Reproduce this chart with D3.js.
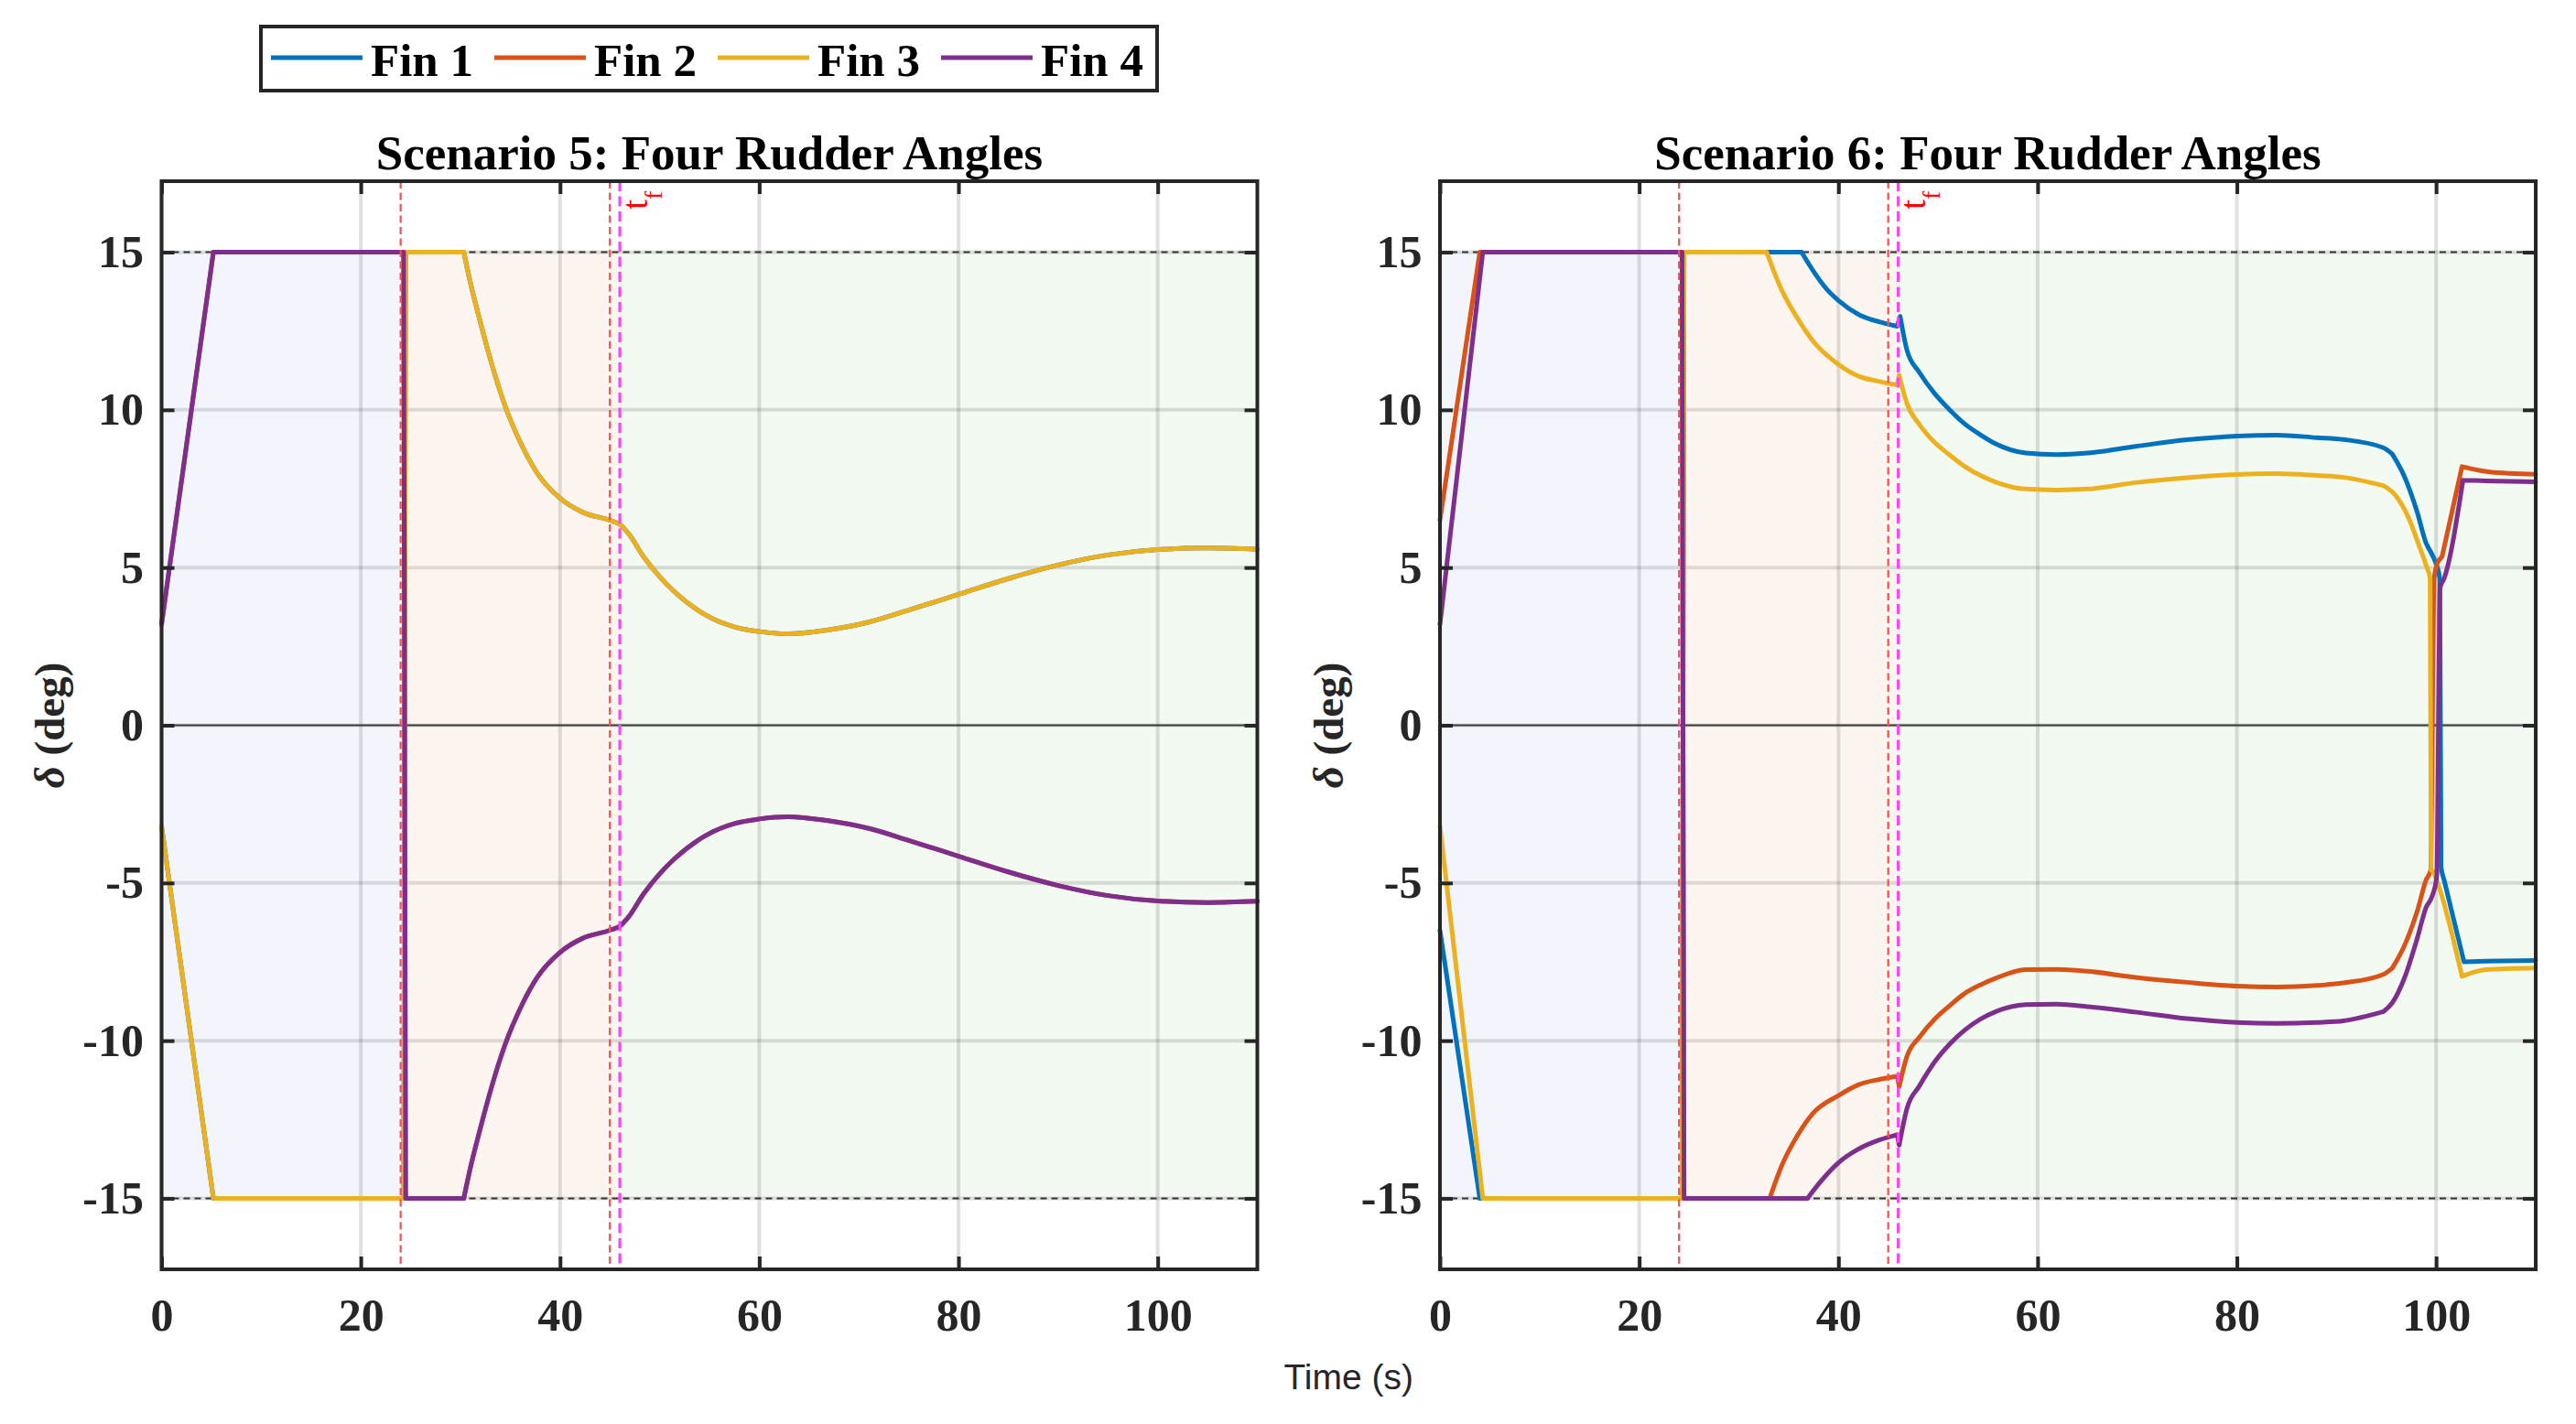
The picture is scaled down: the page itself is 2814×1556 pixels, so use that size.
<!DOCTYPE html>
<html><head><meta charset="utf-8">
<script src="https://cdn.jsdelivr.net/npm/d3@7"></script>
<style>body{margin:0;background:#fff}</style>
</head><body>
<svg id="c" width="2814" height="1556"></svg>
<script>
// ---------------- DATA ----------------
const finNames = ["Fin 1", "Fin 2", "Fin 3", "Fin 4"];
const finColors = ["#0072BD", "#D95319", "#EDB120", "#7E2F8E"];
const xTicks = [0, 20, 40, 60, 80, 100];
const yTicks = [-15, -10, -5, 0, 5, 10, 15];
const titles = ["Scenario 5: Four Rudder Angles", "Scenario 6: Four Rudder Angles"];
const xLabel = "Time (s)";
const phaseBounds = [[0, 24], [24, 46], [46, 110]];
const phaseColors = ["#f2f6fc", "#fdf6f0", "#f3faf1"];
const redLines = [24, 45];
const magentaLines = [46];
const limitLines = [15, -15];

// Scenario 5 (Fin 1 hidden under Fin 3, Fin 2 hidden under Fin 4)
const s5Fin1 = [[0,-3.2],[5.2,-15],[24.3,-15],[24.5,15],[30.34,15],[30.95,14.1],[31.9,12.9],[33.1,11.5],[34.4,10.2],[36.2,8.85],[37.7,8.0],[40,7.2],[42.3,6.75],[45.0,6.5],[46.0,6.37],[46.9,6.07],[48.4,5.34],[50,4.71],[51.5,4.23],[54.6,3.5],[57.6,3.11],[60,2.97],[62.9,2.9],[66.8,3.02],[71.1,3.28],[75,3.65],[80,4.15],[85,4.65],[90,5.08],[95,5.4],[100,5.57],[105,5.62],[110,5.58]];
const s5Fin2 = [[0,3.2],[5.2,15],[24.3,15],[24.5,-15],[30.34,-15],[30.95,-14.1],[31.9,-12.9],[33.1,-11.5],[34.4,-10.2],[36.2,-8.85],[37.7,-8.0],[40,-7.2],[42.3,-6.75],[45.0,-6.5],[46.0,-6.37],[46.9,-6.07],[48.4,-5.34],[50,-4.71],[51.5,-4.23],[54.6,-3.5],[57.6,-3.11],[60,-2.97],[62.9,-2.9],[66.8,-3.02],[71.1,-3.28],[75,-3.65],[80,-4.15],[85,-4.65],[90,-5.08],[95,-5.4],[100,-5.57],[105,-5.62],[110,-5.58]];
const s5Fin3 = [[0,-3.2],[5.2,-15],[24.3,-15],[24.5,15],[30.34,15],[30.95,14.1],[31.9,12.9],[33.1,11.5],[34.4,10.2],[36.2,8.85],[37.7,8.0],[40,7.2],[42.3,6.75],[45.0,6.5],[46.0,6.37],[46.9,6.07],[48.4,5.34],[50,4.71],[51.5,4.23],[54.6,3.5],[57.6,3.11],[60,2.97],[62.9,2.9],[66.8,3.02],[71.1,3.28],[75,3.65],[80,4.15],[85,4.65],[90,5.08],[95,5.4],[100,5.57],[105,5.62],[110,5.58]];
const s5Fin4 = [[0,3.2],[5.2,15],[24.3,15],[24.5,-15],[30.34,-15],[30.95,-14.1],[31.9,-12.9],[33.1,-11.5],[34.4,-10.2],[36.2,-8.85],[37.7,-8.0],[40,-7.2],[42.3,-6.75],[45.0,-6.5],[46.0,-6.37],[46.9,-6.07],[48.4,-5.34],[50,-4.71],[51.5,-4.23],[54.6,-3.5],[57.6,-3.11],[60,-2.97],[62.9,-2.9],[66.8,-3.02],[71.1,-3.28],[75,-3.65],[80,-4.15],[85,-4.65],[90,-5.08],[95,-5.4],[100,-5.57],[105,-5.62],[110,-5.58]];

// Scenario 6
const s6Fin1 = [[0,-6.5],[4.0,-15],[24.3,-15],[24.5,15],[36.3,15],[37.4,14.44],[38.9,13.8],[40,13.47],[42,13.03],[44.1,12.79],[45.9,12.65],[46.2,12.96],[46.9,11.87],[48.1,11.2],[49.65,10.52],[51.2,9.99],[52.7,9.55],[54.25,9.21],[55.8,8.92],[58.8,8.63],[61.9,8.58],[65,8.63],[70,8.85],[75,9.05],[80,9.17],[84,9.2],[88,9.12],[90.7,9.06],[94.7,8.8],[95.6,8.6],[96.8,7.9],[98.1,6.76],[99.0,5.77],[99.45,5.5],[99.9,5.2],[100.37,4.65],[100.5,-4.5],[100.8,-4.9],[102.8,-7.5],[105,-7.48],[110,-7.46]];
const s6Fin2 = [[0,6.5],[4.0,15],[24.3,15],[24.5,-15],[33.1,-15],[34.3,-13.97],[35.9,-13.0],[37.4,-12.32],[40,-11.74],[42,-11.4],[44.1,-11.23],[45.9,-11.13],[46.1,-11.45],[46.9,-10.48],[48.1,-9.9],[49.65,-9.32],[51.2,-8.88],[52.7,-8.5],[54.25,-8.23],[55.8,-8.02],[58.8,-7.75],[61.9,-7.74],[65,-7.8],[70,-8.0],[75,-8.15],[80,-8.27],[84,-8.3],[88,-8.25],[90.7,-8.17],[94.7,-7.9],[95.6,-7.7],[96.8,-7.0],[98.1,-5.9],[99.0,-4.9],[99.45,-4.6],[99.8,4.65],[100.2,5.2],[100.6,5.35],[102.6,8.2],[105.4,8.03],[110,7.96]];
const s6Fin3 = [[0,-3.2],[4.3,-15],[24.3,-15],[24.5,15],[32.8,15],[34.3,13.8],[35.9,12.9],[37.4,12.2],[40,11.44],[42,11.07],[44.1,10.9],[45.9,10.79],[46.1,11.1],[46.9,10.18],[48.1,9.55],[49.65,8.97],[51.2,8.56],[52.7,8.2],[54.25,7.92],[55.8,7.71],[58.8,7.49],[61.9,7.46],[65,7.49],[70,7.7],[75,7.85],[80,7.95],[84,7.98],[88,7.92],[90.7,7.86],[94.7,7.6],[95.9,7.3],[97.2,6.6],[98.4,5.6],[99.0,5.07],[99.4,4.65],[99.5,-4.6],[99.75,-4.65],[100.37,-5.2],[102.6,-7.96],[105,-7.75],[110,-7.7]];
const s6Fin4 = [[0,3.2],[4.3,15],[24.3,15],[24.5,-15],[36.9,-15],[38.0,-14.55],[40,-13.87],[42,-13.44],[44.1,-13.15],[45.9,-12.98],[46.1,-13.31],[46.9,-12.13],[48.1,-11.45],[49.65,-10.68],[51.2,-10.1],[52.7,-9.66],[54.25,-9.32],[55.8,-9.08],[58.8,-8.86],[61.9,-8.84],[65,-8.92],[70,-9.1],[75,-9.3],[80,-9.42],[84,-9.45],[88,-9.42],[90.7,-9.37],[94.7,-9.08],[95.6,-8.8],[96.8,-8.03],[98.1,-6.76],[99.0,-5.77],[99.6,-5.42],[100.06,-4.8],[100.4,4.37],[100.8,4.65],[102.7,7.77],[105,7.75],[110,7.72]];

const scenarioSeries = [[s5Fin1, s5Fin2, s5Fin3, s5Fin4], [s6Fin1, s6Fin2, s6Fin3, s6Fin4]];

// ---------------- LAYOUT ----------------
const svg = d3.select("#c");
const SERIF = "'Liberation Serif','Times New Roman',serif";
const SANS = "'Liberation Sans',Arial,sans-serif";
const INK = "#262626";
const axTop = 198, axBottom = 1387, axW = 1197;
const axLefts = [176.5, 1573];
const y = d3.scaleLinear().domain([-17.25, 17.25]).range([axBottom, axTop]);

// smooth between sharp corners: split the polyline where direction changes abruptly
function seriesPath(pts, x) {
  const gen = d3.line().x(d => x(d[0])).y(d => y(d[1])).curve(d3.curveMonotoneX);
  const P = pts.map(d => [x(d[0]), y(d[1])]);
  const ang = [];
  for (let i = 0; i < P.length - 1; i++) ang.push(Math.atan2(P[i + 1][1] - P[i][1], P[i + 1][0] - P[i][0]));
  const br = [0];
  for (let i = 1; i < P.length - 1; i++) {
    let da = Math.abs(ang[i] - ang[i - 1]);
    if (da > Math.PI) da = 2 * Math.PI - da;
    if (da > 0.45) br.push(i);
  }
  br.push(P.length - 1);
  let d = "";
  for (let k = 0; k < br.length - 1; k++) d += gen(pts.slice(br[k], br[k + 1] + 1));
  return d;
}

axLefts.forEach((left, pi) => {
  const x = d3.scaleLinear().domain([0, 110]).range([left, left + axW]);
  const g = svg.append("g");

  // phase background fills
  g.selectAll("rect.phase").data(phaseBounds).join("rect")
    .attr("x", d => x(d[0])).attr("width", d => x(d[1]) - x(d[0]))
    .attr("y", y(15)).attr("height", y(-15) - y(15))
    .attr("fill", (d, i) => phaseColors[i]);

  // grid
  g.selectAll("line.gx").data(xTicks).join("line")
    .attr("x1", d => x(d)).attr("x2", d => x(d)).attr("y1", axTop).attr("y2", axBottom)
    .attr("stroke", "#000").attr("stroke-opacity", 0.12).attr("stroke-width", 4);
  g.selectAll("line.gy").data(yTicks).join("line")
    .attr("x1", left).attr("x2", left + axW).attr("y1", d => y(d)).attr("y2", d => y(d))
    .attr("stroke", "#000").attr("stroke-opacity", 0.12).attr("stroke-width", 4);

  // limit lines and zero line
  g.selectAll("line.lim").data(limitLines).join("line")
    .attr("x1", left).attr("x2", left + axW).attr("y1", d => y(d)).attr("y2", d => y(d))
    .attr("stroke", "#333").attr("stroke-width", 2).attr("stroke-dasharray", "7,5");
  g.append("line").attr("x1", left).attr("x2", left + axW).attr("y1", y(0)).attr("y2", y(0))
    .attr("stroke", "#3a3a3a").attr("stroke-width", 1.8);

  // curves
  scenarioSeries[pi].forEach((s, i) => {
    g.append("path").attr("d", seriesPath(s, x)).attr("fill", "none")
      .attr("stroke", finColors[i]).attr("stroke-width", 5)
      .attr("stroke-linejoin", "round").attr("stroke-linecap", "round");
  });

  // event lines
  g.selectAll("line.red").data(redLines).join("line")
    .attr("x1", d => x(d)).attr("x2", d => x(d)).attr("y1", axTop).attr("y2", axBottom)
    .attr("stroke", "#ff4d4d").attr("stroke-width", 2.2).attr("stroke-dasharray", "8,4.5");
  g.selectAll("line.mag").data(magentaLines).join("line")
    .attr("x1", d => x(d)).attr("x2", d => x(d)).attr("y1", axTop).attr("y2", axBottom)
    .attr("stroke", "#ff44ff").attr("stroke-width", 3.2).attr("stroke-dasharray", "11,5.5");

  // t_f label (rotated) next to magenta line
  const lab = g.append("text")
    .attr("transform", `translate(${x(magentaLines[0]) + 29.5},229) rotate(-90)`)
    .attr("font-family", SERIF).attr("font-size", 40).attr("fill", "#ff0000");
  lab.append("tspan").text("t");
  lab.append("tspan").attr("dy", 16).attr("font-size", 28).text("f");

  // axes ticks
  const fmt = d => String(d);
  const ax = [
    svg.append("g").attr("transform", `translate(0,${axBottom})`)
      .call(d3.axisBottom(x).tickValues(xTicks).tickSize(-14).tickPadding(31.5).tickFormat(fmt)),
    svg.append("g").attr("transform", `translate(0,${axTop})`)
      .call(d3.axisTop(x).tickValues(xTicks).tickSize(-14).tickFormat("")),
    svg.append("g").attr("transform", `translate(${left},0)`)
      .call(d3.axisLeft(y).tickValues(yTicks).tickSize(-14).tickPadding(19.5).tickFormat(fmt)),
    svg.append("g").attr("transform", `translate(${left + axW},0)`)
      .call(d3.axisRight(y).tickValues(yTicks).tickSize(-14).tickFormat(""))
  ];
  ax.forEach(a => {
    a.select(".domain").remove();
    a.selectAll(".tick line").attr("stroke", INK).attr("stroke-width", 4);
    a.selectAll(".tick text").attr("font-family", SERIF).attr("font-weight", "bold")
      .attr("font-size", 50).attr("fill", INK);
  });

  // box
  svg.append("rect").attr("x", left).attr("y", axTop).attr("width", axW).attr("height", axBottom - axTop)
    .attr("fill", "none").attr("stroke", INK).attr("stroke-width", 4);

  // title
  svg.append("text").attr("x", left + axW / 2).attr("y", 185).attr("text-anchor", "middle")
    .attr("font-family", SERIF).attr("font-weight", "bold").attr("font-size", 53).attr("fill", "#000")
    .text(titles[pi]);

  // y label
  const yl = svg.append("text")
    .attr("transform", `translate(${left - 122.5},${(axTop + axBottom) / 2}) rotate(-90)`)
    .attr("text-anchor", "middle").attr("dy", "0.35em")
    .attr("font-family", SERIF).attr("font-weight", "bold").attr("font-size", 47).attr("fill", INK);
  yl.append("tspan").attr("font-style", "italic").text("δ");
  yl.append("tspan").text(" (deg)");
});

// x label
svg.append("text").attr("x", (axLefts[0] + axLefts[1] + axW) / 2).attr("y", 1518)
  .attr("text-anchor", "middle").attr("font-family", SANS).attr("font-size", 39).attr("fill", INK)
  .text(xLabel);

// legend
const leg = svg.append("g");
leg.append("rect").attr("x", 285).attr("y", 29).attr("width", 979).attr("height", 70)
  .attr("fill", "#fff").attr("stroke", INK).attr("stroke-width", 4);
finNames.forEach((n, i) => {
  const x0 = 296 + i * 244;
  leg.append("line").attr("x1", x0).attr("x2", x0 + 100).attr("y1", 63).attr("y2", 63)
    .attr("stroke", finColors[i]).attr("stroke-width", 5);
  leg.append("text").attr("x", x0 + 109).attr("y", 83)
    .attr("font-family", SERIF).attr("font-weight", "bold").attr("font-size", 51).attr("fill", "#000")
    .text(n);
});
</script>
</body></html>
